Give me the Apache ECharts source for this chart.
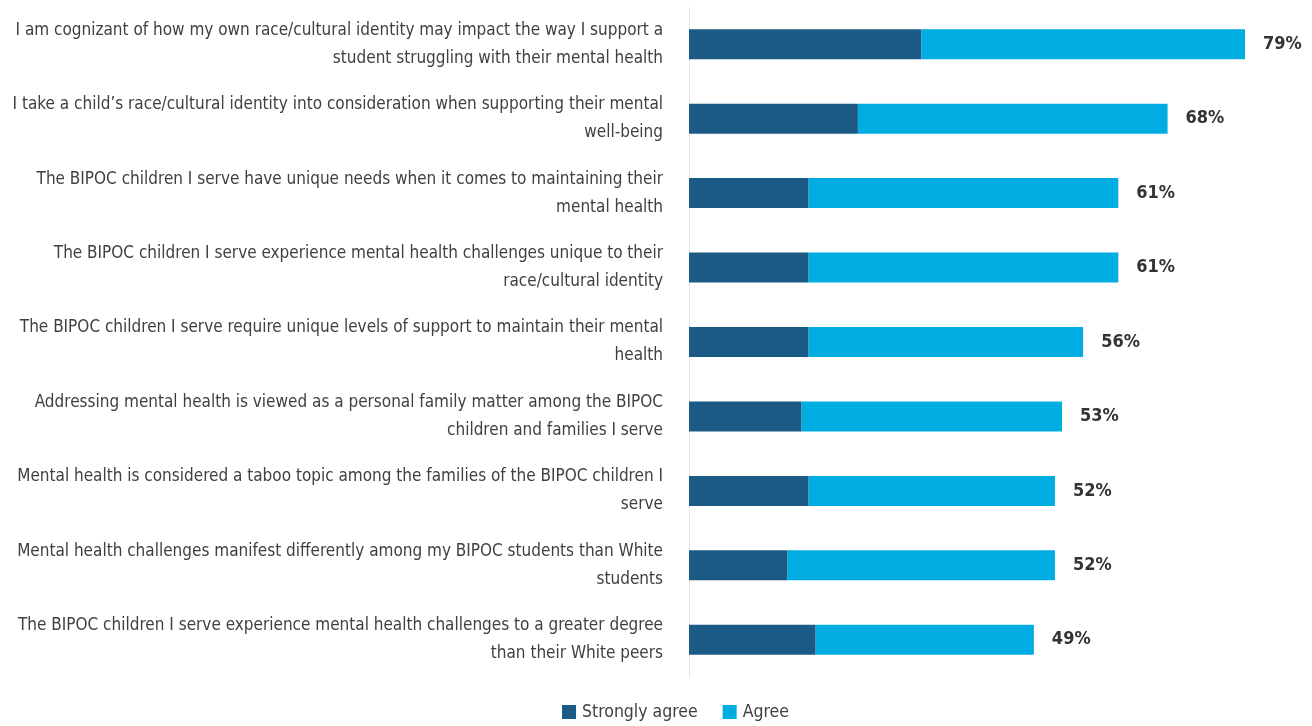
<!DOCTYPE html>
<html><head><meta charset="utf-8">
<script src="https://cdn.jsdelivr.net/npm/echarts@6/dist/echarts.min.js"></script>
<style>html,body{margin:0;padding:0;background:#fff}#c{width:1312px;height:726px}</style>
</head><body><div id="c"></div>
<script>
const categories = [
  "I am cognizant of how my own race/cultural identity may impact the way I support a\nstudent struggling with their mental health",
  "I take a child’s race/cultural identity into consideration when supporting their mental\nwell-being",
  "The BIPOC children I serve have unique needs when it comes to maintaining their\nmental health",
  "The BIPOC children I serve experience mental health challenges unique to their\nrace/cultural identity",
  "The BIPOC children I serve require unique levels of support to maintain their mental\nhealth",
  "Addressing mental health is viewed as a personal family matter among the BIPOC\nchildren and families I serve",
  "Mental health is considered a taboo topic among the families of the BIPOC children I\nserve",
  "Mental health challenges manifest differently among my BIPOC students than White\nstudents",
  "The BIPOC children I serve experience mental health challenges to a greater degree\nthan their White peers"
];
const stronglyAgree = [33, 24, 17, 17, 17, 16, 17, 14, 18];
const agree = [46, 44, 44, 44, 39, 37, 35, 38, 31];
const totals = [79, 68, 61, 61, 56, 53, 52, 52, 49];

const FONT = '"DejaVu Sans Condensed","Liberation Sans Narrow",sans-serif';
const chart = echarts.init(document.getElementById('c'), null, {renderer: 'canvas'});
chart.setOption({
  animation: false,
  grid: {left: 689, right: 67, top: 7, bottom: 49, containLabel: false, outerBoundsMode: 'none'},
  xAxis: {type: 'value', min: 0, max: 79, show: false},
  yAxis: {
    type: 'category', data: categories, inverse: true,
    axisLine: {show: true, lineStyle: {color: '#e6e6e6', width: 1}},
    axisTick: {show: false},
    axisLabel: {
      margin: 26, align: 'right', fontFamily: FONT, fontSize: 17,
      lineHeight: 28, color: '#404040'
    }
  },
  legend: {
    top: 703, left: 562, itemWidth: 14, itemHeight: 14, itemGap: 25,
    icon: 'rect', padding: 0,
    textStyle: {fontFamily: FONT, fontSize: 17.5, color: '#404040', padding: [0, 0, 0, 1]},
    data: ['Strongly agree', 'Agree']
  },
  series: [
    {name: 'Strongly agree', type: 'bar', stack: 't', barWidth: 30,
     itemStyle: {color: '#1b5a85'}, data: stronglyAgree},
    {name: 'Agree', type: 'bar', stack: 't', barWidth: 30,
     itemStyle: {color: '#00ade3'}, data: agree,
     label: {show: true, position: 'right', distance: 18,
       formatter: p => totals[p.dataIndex] + '%',
       fontFamily: FONT, fontSize: 18, fontWeight: 'bold', color: '#333'}}
  ]
});
</script></body></html>
